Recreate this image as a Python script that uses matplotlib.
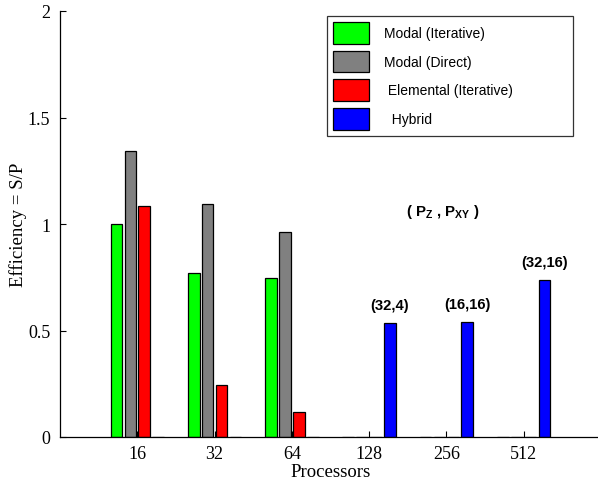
import numpy as np
import matplotlib
matplotlib.use('Agg')
import matplotlib.pyplot as plt
from matplotlib.patches import Patch

# Data
processors = ['16', '32', '64', '128', '256', '512']
modalIterative = [1.00, 0.768, 0.746, 0.0, 0.0, 0.0]
modalDirect = [1.344, 1.094, 0.964, 0.0, 0.0, 0.0]
elementalIterative = [1.083, 0.244, 0.116, 0.0, 0.0, 0.0]
hybrid = [0.0, 0.0, 0.0, 0.535, 0.541, 0.738]
hybridLabels = ['', '', '', '(32,4)', '(16,16)', '(32,16)']

seriesNames = ['Modal (Iterative)', 'Modal (Direct)', ' Elemental (Iterative)', '  Hybrid']
seriesColours = ['#00ff00', '#808080', '#ff0000', '#0000ff']

plt.rcParams['mathtext.fontset'] = 'custom'
plt.rcParams['mathtext.rm'] = 'Liberation Sans'
plt.rcParams['mathtext.bf'] = 'Liberation Sans:bold'

fig = plt.figure(figsize=(5.98, 4.85), dpi=100)
ax = fig.add_axes([60 / 598, 47 / 485, 541 / 598, 426 / 485])

x = np.arange(1, len(processors) + 1)
offsets = [-0.27, -0.09, 0.09, 0.27]
width = 0.15
allSeries = [modalIterative, modalDirect, elementalIterative, hybrid]
for values, off, colour in zip(allSeries, offsets, seriesColours):
    ax.bar(x + off, values, width, color=colour, edgecolor='black', linewidth=0.9)

# Labels over hybrid bars
for xi, v, lab in zip(x, hybrid, hybridLabels):
    if lab:
        ax.text(xi + offsets[3], v + 0.05, lab, ha='center', va='bottom',
                family='Liberation Sans', fontweight='bold', fontsize=10.6)

ax.text(4.95, 1.06, r'( P$_\mathbf{Z}$ , P$_\mathbf{XY}$ )', ha='center', va='center',
        family='Liberation Sans', fontweight='bold', fontsize=10.8)

ax.set_xlim(0, 7)
ax.set_ylim(0, 2)
ax.set_xticks(x)
ax.set_xticklabels(processors)
ax.set_yticks([0, 0.5, 1, 1.5, 2])
ax.set_yticklabels(['0', '0.5', '1', '1.5', '2'])
for lab in ax.get_xticklabels() + ax.get_yticklabels():
    lab.set_family('Liberation Serif')
    lab.set_fontsize(13)
ax.tick_params(direction='in', length=4, width=0.8, pad=7)
ax.tick_params(axis='x', pad=6)
ax.spines['top'].set_visible(False)
ax.spines['right'].set_visible(False)
ax.spines['left'].set_linewidth(0.9)
ax.spines['bottom'].set_linewidth(0.9)

ax.set_xlabel('Processors', family='Liberation Serif', fontsize=13.5)
ax.set_ylabel('Efficiency = S/P', family='Liberation Serif', fontsize=13.5)
ax.xaxis.set_label_coords(0.5, -(473 - 438) / 426)
ax.yaxis.set_label_coords(-(60 - 18) / 541, 0.5)
ax.xaxis.label.set_va('center')
ax.yaxis.label.set_va('center')

# Legend
handles = [Patch(facecolor=c, edgecolor='black', linewidth=0.9) for c in seriesColours]
leg = ax.legend(handles, seriesNames, loc='upper left',
                bbox_to_anchor=((327 - 60) / 541, (438 - 17) / 426, 246 / 541, 0.0),
                mode='expand', frameon=True, fancybox=False, edgecolor='black',
                prop={'family': 'Liberation Sans', 'size': 10},
                handlelength=2.6, handleheight=2.05, labelspacing=0.48,
                handletextpad=1.05, borderpad=0.43, borderaxespad=0.0)
leg.get_frame().set_linewidth(0.9)

fig.savefig('out.png', dpi=100)
